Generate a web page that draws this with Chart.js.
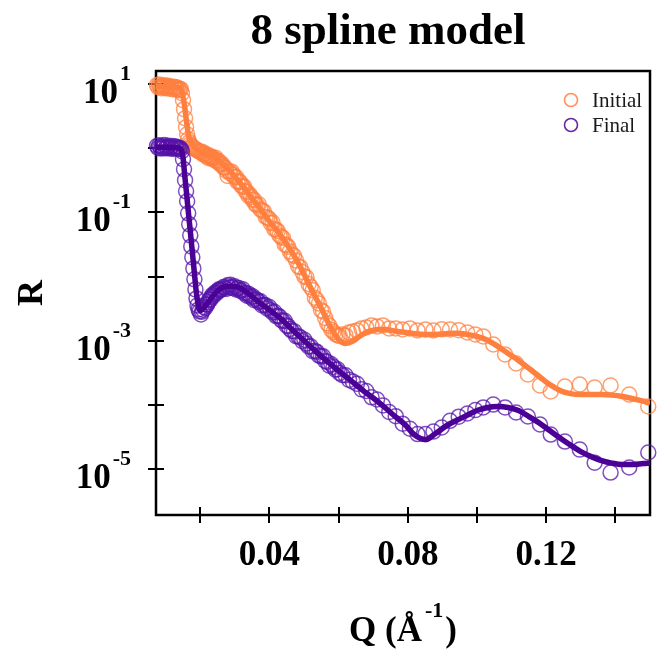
<!DOCTYPE html>
<html>
<head>
<meta charset="utf-8">
<script src="https://cdn.jsdelivr.net/npm/chart.js@4.4.0/dist/chart.umd.min.js"></script>
<style>
  html, body { margin: 0; padding: 0; background: #fff; }
</style>
</head>
<body>
<canvas id="chart" width="659" height="652"></canvas>
<script>
// measured points, Q in 1/Angstrom
const qData = [
  0.0075, 0.0078, 0.0081, 0.0084, 0.0087, 0.0090, 0.0093, 0.0096, 0.0099, 0.0102,
  0.0105, 0.0108, 0.0111, 0.0114, 0.0117, 0.0120, 0.0123, 0.0126, 0.0129, 0.0132,
  0.0135, 0.0138, 0.0141, 0.0144, 0.0147, 0.0150, 0.0153, 0.0156, 0.0159, 0.0162,
  0.0165, 0.0168, 0.0171, 0.0174, 0.0177, 0.0180, 0.0183, 0.0186, 0.0189, 0.0192,
  0.0195, 0.0198,
  0.0202, 0.0205, 0.0208, 0.0211, 0.0214, 0.0217, 0.0220, 0.0223, 0.0226, 0.0229,
  0.0232, 0.0235, 0.0238, 0.0241, 0.0244, 0.0247, 0.0250, 0.0253, 0.0256, 0.0259,
  0.0263, 0.0267, 0.0271, 0.0275, 0.0279, 0.0283, 0.0287, 0.0291, 0.0295, 0.0299,
  0.0303, 0.0307, 0.0311, 0.0315, 0.0319, 0.0323, 0.0327, 0.0331, 0.0335, 0.0339,
  0.0343, 0.0347, 0.0351, 0.0355, 0.0359,
  0.0364, 0.0369, 0.0374, 0.0379, 0.0384, 0.0389, 0.0394, 0.0399, 0.0404, 0.0409,
  0.0414, 0.0419, 0.0424, 0.0429, 0.0434, 0.0439, 0.0444, 0.0449, 0.0454, 0.0459,
  0.0465, 0.0471, 0.0477, 0.0483, 0.0489, 0.0495, 0.0501, 0.0507, 0.0513, 0.0519,
  0.0525, 0.0531, 0.0537, 0.0543, 0.0549, 0.0555, 0.0561, 0.0567, 0.0573, 0.0579,
  0.0585, 0.0591, 0.0597, 0.0603,
  0.0611, 0.0620, 0.0630, 0.0641, 0.0653, 0.0666, 0.0680, 0.0695, 0.0711, 0.0728,
  0.0746, 0.0765, 0.0785, 0.0806, 0.0828, 0.0851, 0.0874, 0.0898, 0.0922, 0.0947,
  0.0972, 0.0995,
  0.1018, 0.1047, 0.1081, 0.1113, 0.1147, 0.1182, 0.1213, 0.1254, 0.1297, 0.1340,
  0.1386, 0.1440, 0.1495
];

const initialR = [
  9.51, 8.85, 9.7, 9.0, 8.54, 9.35, 8.85, 9.5, 8.54, 9.18,
  8.7, 9.35, 8.39, 9.0, 8.7, 8.24, 9.0, 8.39, 8.85, 8.1,
  8.7, 7.95, 8.24, 8.24, 7.14, 5.56, 4.02, 2.91, 2.11, 1.64,
  1.37, 1.23, 1.15, 1.085, 1.047, 1.011, 0.975, 0.958, 0.941, 0.924,
  0.892, 0.876,
  0.860, 0.876, 0.798, 0.812, 0.824, 0.753, 0.767, 0.701, 0.764, 0.724,
  0.686, 0.724, 0.686, 0.648, 0.709, 0.648, 0.608, 0.632, 0.588, 0.550,
  0.5655, 0.5023, 0.4987, 0.4446, 0.3677, 0.4367, 0.4023, 0.4289, 0.3812, 0.3522,
  0.3573, 0.3009, 0.3030, 0.2955, 0.2578, 0.2505, 0.2523, 0.2132, 0.2072, 0.1808,
  0.1894, 0.1719, 0.1561, 0.1583, 0.1342,
  0.1285, 0.1332, 0.1106, 0.1067, 0.1026, 0.0845, 0.0833, 0.0789, 0.0674, 0.0691,
  0.0546, 0.0540, 0.0510, 0.0435, 0.0411, 0.0401, 0.0316, 0.0310, 0.0290, 0.0246,
  0.02194, 0.02102, 0.01776, 0.01442, 0.01401, 0.01179, 0.01000, 0.00976, 0.00764, 0.00691,
  0.00612, 0.00469, 0.00431, 0.00380, 0.00300, 0.00285, 0.00227, 0.00187, 0.00172, 0.00148,
  0.00137, 0.00127, 0.00121, 0.00119,
  0.001259, 0.001214, 0.001352, 0.001401, 0.001453, 0.001561, 0.001618, 0.001738, 0.001676, 0.001738,
  0.001561, 0.001560, 0.001506, 0.001561, 0.001453, 0.001506, 0.001450, 0.001510, 0.001500, 0.001460,
  0.001350, 0.001260,
  0.00117, 0.000879, 0.000614, 0.000444, 0.000300, 0.000202, 0.000163, 0.000195, 0.000209, 0.000188,
  0.000202, 0.000146, 0.0000951
];

const finalR = [
  1.08, 1.00, 1.10, 1.03, 0.98, 1.07, 1.01, 1.11, 0.99, 1.05,
  1.02, 1.09, 0.98, 1.04, 1.00, 1.08, 0.97, 1.03, 1.06, 0.99,
  1.02, 0.97, 1.00, 0.97, 0.892, 0.669, 0.468, 0.316, 0.212, 0.1485,
  0.0965, 0.0650, 0.0438, 0.0295, 0.0199, 0.0134, 0.00905, 0.00632, 0.00457, 0.00356,
  0.00308, 0.00287,
  0.002569, 0.002841, 0.003041, 0.003362, 0.003256, 0.003691, 0.003664, 0.004008, 0.004416, 0.004353,
  0.004779, 0.005190, 0.004989, 0.005360, 0.005716, 0.005515, 0.005905, 0.006299, 0.006078, 0.006391,
  0.006299, 0.006889, 0.006767, 0.006412, 0.007297, 0.006743, 0.007482, 0.006914, 0.006622, 0.007063,
  0.006299, 0.006575, 0.006622, 0.006011, 0.006053, 0.006322, 0.005515, 0.005555, 0.005025, 0.005417,
  0.005078, 0.004745, 0.004952, 0.004322, 0.004511,
  0.004337, 0.004008, 0.004125, 0.003548, 0.003612, 0.003573, 0.003175, 0.003375, 0.002998, 0.002761,
  0.002831, 0.002426, 0.002452, 0.002391, 0.002094, 0.002034, 0.002056, 0.001738, 0.001689, 0.001533,
  0.001422, 0.001416, 0.001180, 0.001176, 0.001134, 0.000989, 0.001036, 0.000905, 0.000818, 0.000821,
  0.000691, 0.000696, 0.000677, 0.000590, 0.000574, 0.000576, 0.000485, 0.000471, 0.000411, 0.000432,
  0.000392, 0.000356, 0.000360, 0.000315,
  0.000293, 0.000291, 0.000247, 0.000232, 0.000214, 0.0001757, 0.0001653, 0.0001323, 0.0001223, 0.0000990,
  0.0000781, 0.0000672, 0.0000514, 0.0000428, 0.0000354, 0.0000354, 0.0000387, 0.0000448, 0.0000570, 0.0000660,
  0.0000740, 0.0000836,
  0.0000920, 0.000102, 0.0000920, 0.0000767, 0.0000664, 0.0000499, 0.0000348, 0.0000271, 0.0000203, 0.0000127,
  0.00000891, 0.0000107, 0.0000183
];

// model curves
const qFit = [
  0.0072, 0.0100, 0.0130, 0.0140, 0.0145, 0.0150, 0.0155, 0.0160, 0.0165, 0.0170,
  0.0180, 0.0190, 0.0200, 0.0220, 0.0250, 0.0280, 0.0310, 0.0340, 0.0370, 0.0400,
  0.0430, 0.0460, 0.0490, 0.0520, 0.0550, 0.0580, 0.0600, 0.0620, 0.0640, 0.0660,
  0.0680, 0.0700, 0.0730, 0.0760, 0.0790, 0.0820, 0.0850, 0.0880, 0.0910, 0.0940,
  0.0970, 0.1000, 0.1030, 0.1060, 0.1090, 0.1120, 0.1150, 0.1180, 0.1210, 0.1240,
  0.1270, 0.1300, 0.1330, 0.1360, 0.1390, 0.1420, 0.1450, 0.1480, 0.1500
];

const initialFit = [
  9.18, 9.01, 8.70, 8.54, 7.95, 6.41, 4.32, 2.62, 1.70, 1.32,
  1.067, 0.958, 0.892, 0.787, 0.657, 0.468, 0.310, 0.191, 0.1197, 0.0724,
  0.0454, 0.0265, 0.0139, 0.00655, 0.00320, 0.00151, 0.00105, 0.000911, 0.00098, 0.00117,
  0.00136, 0.00146, 0.00151, 0.00143, 0.00136, 0.00129, 0.00126, 0.00126, 0.00129, 0.00131,
  0.00126, 0.00117, 0.00102, 0.000818, 0.000637, 0.000495, 0.000372, 0.000279, 0.000209, 0.000169,
  0.000151, 0.000146, 0.000146, 0.000146, 0.000143, 0.000136, 0.000126, 0.000115, 0.000106
];

const finalFit = [
  1.03, 1.03, 1.01, 0.99, 0.94, 0.72, 0.377, 0.205, 0.1075, 0.0583,
  0.01662, 0.00492, 0.00297, 0.00383, 0.00598, 0.00704, 0.00680, 0.00540, 0.00397, 0.00303,
  0.00227, 0.00160, 0.00113, 0.000803, 0.000573, 0.000421, 0.000340, 0.000280, 0.000229, 0.000188,
  0.000154, 0.000129, 0.0000951, 0.0000689, 0.0000508, 0.0000342, 0.0000291, 0.0000361, 0.0000472, 0.0000576,
  0.0000689, 0.0000824, 0.0000920, 0.0000951, 0.0000920, 0.0000824, 0.0000664, 0.0000527, 0.0000402, 0.0000308,
  0.0000239, 0.0000189, 0.0000158, 0.0000137, 0.0000125, 0.0000119, 0.0000119, 0.0000123, 0.0000125
];

// axis ticks and labels
const xTicks = [0.02, 0.04, 0.06, 0.08, 0.10, 0.12, 0.14];
const xTickLabels = ['0.04', '0.08', '0.12'];
const yTicks = [1e1, 1e0, 1e-1, 1e-2, 1e-3, 1e-4, 1e-5];
const yTickExps = ['1', '-1', '-3', '-5'];

const orange = '#ff7f3f';
const purple = '#4b0096';
const serif = '"Liberation Serif", "Times New Roman", serif';

function pts(xs, ys) {
    return xs.map((x, i) => ({ x: x, y: ys[i] }));
}

// frame and in-out ticks go under the data
const frameTicks = {
    id: 'frameTicks',
    beforeDatasetsDraw(chart) {
        const { ctx, chartArea: a, scales: { x, y } } = chart;
        ctx.save();
        ctx.strokeStyle = '#000';
        ctx.lineWidth = 2;
        ctx.beginPath();
        xTicks.forEach(v => {
            const px = Math.round(x.getPixelForValue(v));
            ctx.moveTo(px, a.bottom - 8);
            ctx.lineTo(px, a.bottom + 8);
        });
        yTicks.forEach(v => {
            const py = Math.round(y.getPixelForValue(v));
            ctx.moveTo(a.left - 8, py);
            ctx.lineTo(a.left + 8, py);
        });
        ctx.stroke();
        ctx.lineWidth = 2.5;
        ctx.strokeRect(a.left, a.top, a.right - a.left, a.bottom - a.top);
        ctx.restore();
    }
};

// text: title, tick labels with superscripts, axis titles, legend
const textLayer = {
    id: 'textLayer',
    afterDraw(chart) {
        const { ctx, chartArea: a, scales: { x, y } } = chart;
        ctx.save();
        ctx.fillStyle = '#000';
        ctx.textBaseline = 'alphabetic';

        // title
        ctx.font = 'bold 45px ' + serif;
        ctx.textAlign = 'center';
        ctx.fillText('8 spline model', 388, 44);

        // x tick labels
        ctx.font = 'bold 35px ' + serif;
        xTickLabels.forEach(t => {
            ctx.fillText(t, x.getPixelForValue(parseFloat(t)), 565);
        });

        // y tick labels 10^n
        ctx.textAlign = 'left';
        yTickExps.forEach(e => {
            const py = y.getPixelForValue(Math.pow(10, parseFloat(e)));
            ctx.font = 'bold 22px ' + serif;
            const we = ctx.measureText(e).width;
            ctx.font = 'bold 35px ' + serif;
            const wb = ctx.measureText('10').width;
            const ex = 131 - we;
            ctx.fillText('10', ex - 2 - wb, py + 19);
            ctx.font = 'bold 22px ' + serif;
            ctx.fillText(e, ex, py - 4);
        });

        // x axis title: Q (Å^-1)
        ctx.font = 'bold 35px ' + serif;
        const part1 = 'Q (Å';
        const w1 = ctx.measureText(part1).width;
        ctx.font = 'bold 22px ' + serif;
        const w2 = ctx.measureText('-1').width;
        ctx.font = 'bold 35px ' + serif;
        const w3 = ctx.measureText(')').width;
        const total = w1 + 3 + w2 + 2 + w3;
        const sx = (a.left + a.right) / 2 - total / 2;
        ctx.fillText(part1, sx, 641);
        ctx.font = 'bold 22px ' + serif;
        ctx.fillText('-1', sx + w1 + 3, 617);
        ctx.font = 'bold 35px ' + serif;
        ctx.fillText(')', sx + w1 + 3 + w2 + 2, 641);

        // y axis title
        ctx.save();
        ctx.translate(42, (a.top + a.bottom) / 2);
        ctx.rotate(-Math.PI / 2);
        ctx.textAlign = 'center';
        ctx.font = 'bold 36px ' + serif;
        ctx.fillText('R', 0, 0);
        ctx.restore();

        // legend
        const items = [['Initial', orange, 100], ['Final', purple, 125]];
        ctx.font = '21px ' + serif;
        ctx.textAlign = 'left';
        items.forEach(([label, col, cy]) => {
            ctx.beginPath();
            ctx.arc(571, cy, 6.5, 0, Math.PI * 2);
            ctx.strokeStyle = col;
            ctx.globalAlpha = 0.85;
            ctx.lineWidth = 1.6;
            ctx.stroke();
            ctx.globalAlpha = 1;
            ctx.fillStyle = '#1a1a1a';
            ctx.fillText(label, 592, cy + 7);
        });
        ctx.restore();
    }
};

const ctx = document.getElementById('chart').getContext('2d');

new Chart(ctx, {
    type: 'scatter',
    data: {
        datasets: [
            {
                label: 'Initial',
                data: pts(qData, initialR),
                pointStyle: 'circle',
                pointRadius: 7.5,
                pointBorderWidth: 1.5,
                pointBorderColor: 'rgba(255,127,63,0.75)',
                pointBackgroundColor: 'rgba(0,0,0,0)',
                showLine: false,
                clip: false,
                order: 3
            },
            {
                label: 'Final',
                data: pts(qData, finalR),
                pointStyle: 'circle',
                pointRadius: 7.5,
                pointBorderWidth: 1.5,
                pointBorderColor: 'rgba(85,20,170,0.75)',
                pointBackgroundColor: 'rgba(0,0,0,0)',
                showLine: false,
                clip: false,
                order: 2
            },
            {
                label: 'Initial fit',
                data: pts(qFit, initialFit),
                showLine: true,
                borderColor: orange,
                borderWidth: 5.5,
                pointRadius: 0,
                cubicInterpolationMode: 'monotone',
                order: 1
            },
            {
                label: 'Final fit',
                data: pts(qFit, finalFit),
                showLine: true,
                borderColor: purple,
                borderWidth: 5.5,
                pointRadius: 0,
                cubicInterpolationMode: 'monotone',
                order: 0
            }
        ]
    },
    options: {
        responsive: false,
        animation: false,
        devicePixelRatio: 1,
        layout: { padding: { left: 156, top: 71, right: 6, bottom: 137 } },
        scales: {
            x: { type: 'linear', min: 0.0072, max: 0.150, display: false },
            y: { type: 'logarithmic', min: 1.95e-6, max: 15.8, display: false }
        },
        plugins: {
            legend: { display: false },
            title: { display: false },
            tooltip: { enabled: false }
        }
    },
    plugins: [frameTicks, textLayer]
});
</script>
</body>
</html>
